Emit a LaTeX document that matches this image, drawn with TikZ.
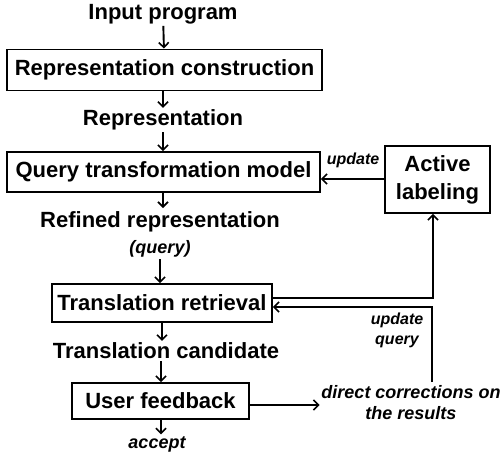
\documentclass[tikz,border=0pt]{standalone}
\usepackage{fontspec}
\setmainfont{Liberation Sans}
\usetikzlibrary{arrows.meta}
\begin{document}
\begin{tikzpicture}[x=1pt,y=-1pt,
  line width=1.9pt,
  flow/.style={-{Straight Barb[length=5pt,width=10pt,line width=1.6pt]}},
  stagebox/.style={draw,inner sep=0pt,font=\fontsize{22}{25}\selectfont\bfseries},
  caption/.style={inner sep=1pt,font=\fontsize{22}{25}\selectfont\bfseries},
  remark/.style={inner sep=1pt,font=\fontsize{18}{21}\selectfont\bfseries\itshape},
  smallremark/.style={inner sep=1pt,font=\fontsize{16}{19}\selectfont\bfseries\itshape}]
\useasboundingbox (0,0) rectangle (502,458);

% main pipeline
\node[caption] (inp) at (163,14) {Input program};
\node[stagebox,minimum width=315pt,minimum height=41pt] (rc) at (164.5,70) {Representation construction};
\node[caption] (rep) at (163,120) {Representation};
\node[stagebox,minimum width=313pt,minimum height=40pt] (qt) at (163.5,172) {Query transformation model};
\node[caption] (ref) at (160,222) {Refined representation};
\node[remark] (qry) at (160,249) {(query)};
\node[stagebox,minimum width=220pt,minimum height=38pt] (tr) at (162,303) {Translation retrieval};
\node[caption] (cand) at (166,351) {Translation candidate};
\node[stagebox,minimum width=177pt,minimum height=36pt] (uf) at (160.5,401) {User feedback};
\node[remark] (acc) at (157,444) {accept};

% side components
\node[stagebox,minimum width=105pt,minimum height=67pt,align=center,
      font=\fontsize{22}{28}\selectfont\bfseries] (al) at (437.5,179.5) {Active\\labeling};
\node[remark,align=center,font=\fontsize{18}{21}\selectfont\bfseries\itshape] (dc) at (411,403) {direct corrections on\\the results};
\node[smallremark] (upd) at (353,160) {update};
\node[smallremark,align=center,font=\fontsize{16}{20}\selectfont\bfseries\itshape] (updq) at (397,330) {update\\query};
\coordinate (dctop) at (432,382);

% pipeline arrows
\draw[flow] (inp) -- (rc);
\draw[flow] (rc.south -| rep) -- (rep);
\draw[flow] (rep) -- (rep |- qt.north);
\draw[flow] (qt.south -| 163,0) -- (163,208);
\draw[flow] (qry) -- (qry |- tr.north);
\draw[flow] (tr.south) -- (cand.north -| tr.south);
\draw[flow] (cand.south -| 161,0) -- (uf.north -| 161,0);
\draw[flow] (uf.south -| 161,0) -- (acc.north -| 161,0);

% feedback loops
\draw[flow] (al.west |- 0,179) -- (qt.east |- 0,179);
\draw[flow] (tr.east |- 0,298) -| ([xshift=-4.5pt]al.south);
\draw[flow] (dctop) |- (tr.east |- 0,307);
\draw[flow] (uf.east |- 0,405) -- (dc.west |- 0,405);
\end{tikzpicture}
\end{document}
